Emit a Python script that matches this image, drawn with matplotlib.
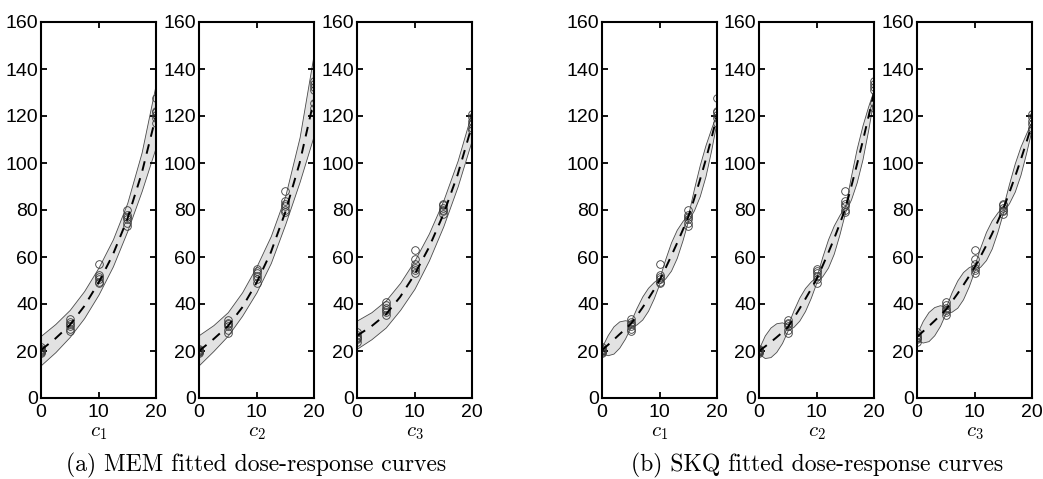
import numpy as np
import matplotlib
matplotlib.use('Agg')
import matplotlib.pyplot as plt

plt.rcParams['font.family'] = ['Liberation Sans', 'DejaVu Sans']
plt.rcParams['mathtext.fontset'] = 'cm'

# doses, 6 replicates each
dose = [0]*6 + [5]*6 + [10]*6 + [15]*6 + [20]*6

resp_c1 = [19, 19.5, 20, 20.5, 21, 21.5,
           28.5, 29.5, 30.5, 31.5, 32.5, 33.5,
           49, 49.5, 50.5, 51.5, 52.5, 57,
           73, 74.5, 76, 77, 78, 80,
           117, 119, 120.5, 121.5, 122, 127.5]
resp_c2 = [19.5, 20, 20, 20.5, 21, 19,
           27.5, 29, 30.5, 31.5, 32, 33,
           49, 50.5, 52, 53, 54, 55,
           79, 80, 81.5, 82.5, 84, 88,
           123.5, 125.5, 131, 132.5, 133.5, 135]
resp_c3 = [24, 25, 26, 27, 28, 25.5,
           35.5, 36.5, 37.5, 38.5, 39.5, 41,
           53, 54.5, 55.5, 57, 59, 63,
           78.5, 79.5, 80, 81, 82, 82.5,
           114, 115, 116.5, 118, 119.5, 121]

# MEM fitted curves and bands (read at x = 0, 2.5, ..., 20)
x_mem = [0, 2.5, 5, 7.5, 10, 12.5, 15, 17.5, 20]
mem_c1_mean = [20.4, 25.3, 31.0, 39.0, 49.0, 61.0, 76.0, 95.5, 120.0]
mem_c1_up = [26.5, 31.5, 37.5, 45.5, 55.5, 67.5, 83, 104.5, 134]
mem_c1_lo = [14, 19.5, 26, 34, 44, 56, 71, 88, 107]
mem_c2_mean = [20, 25, 30.5, 38.5, 49, 62, 79, 100, 127]
mem_c2_up = [26.8, 31, 36.5, 45, 56, 69, 86, 111, 147]
mem_c2_lo = [14, 20, 26.5, 35, 45, 57.5, 74, 92, 112]
mem_c3_mean = [26.5, 30.5, 35.5, 43, 52.5, 64, 78, 95, 116]
mem_c3_up = [33, 36.5, 41.5, 49, 58.5, 70, 84, 101, 122]
mem_c3_lo = [21, 25, 30, 37.5, 46.5, 58.5, 73, 90, 110]

# SKQ fitted curves and band half widths (read at x = 0, 1, ..., 20)
x_skq = list(range(21))
skq_c1_mean = [20.4, 22.5, 24.7, 27.0, 29.2, 31.5, 34.8, 38.3, 42.0, 45.9, 50.0,
               55.0, 60.2, 65.6, 71.2, 77.0, 84.5, 92.5, 101.0, 110.2, 120.0]
skq_c1_half = [1.5, 4.3, 5.8, 5.6, 3.9, 1.2, 3.5, 4.9, 4.9, 3.5, 1.2,
               4.1, 6.0, 6.0, 4.1, 1.2, 4.6, 6.6, 6.6, 4.6, 1.5]
skq_c2_mean = [20.0, 21.8, 23.7, 25.7, 27.8, 30.0, 33.8, 37.8, 41.9, 46.1, 50.5,
               55.9, 61.5, 67.4, 73.8, 80.5, 89.5, 99.0, 108.8, 119.2, 130.0]
skq_c2_half = [1.2, 4.8, 6.3, 6.1, 4.4, 1.2, 3.5, 4.9, 4.9, 3.5, 1.2,
               4.1, 6.0, 6.0, 4.1, 1.2, 5.0, 7.2, 7.2, 5.0, 1.5]
skq_c3_mean = [26.0, 28.2, 30.4, 32.7, 35.1, 37.5, 40.8, 44.2, 47.8, 51.6, 55.5,
               60.0, 64.7, 69.6, 74.9, 80.5, 87.0, 93.8, 101.0, 108.6, 116.5]
skq_c3_half = [1.5, 4.6, 6.2, 6.0, 4.4, 1.2, 4.1, 5.8, 5.8, 4.1, 1.2,
               4.1, 6.0, 6.0, 4.1, 1.2, 4.1, 6.0, 6.0, 4.1, 1.5]

labels = [r'$c_1$', r'$c_2$', r'$c_3$']
resps = [resp_c1, resp_c2, resp_c3]

mem = [(mem_c1_mean, mem_c1_lo, mem_c1_up),
       (mem_c2_mean, mem_c2_lo, mem_c2_up),
       (mem_c3_mean, mem_c3_lo, mem_c3_up)]
skq = []
for m, h in [(skq_c1_mean, skq_c1_half), (skq_c2_mean, skq_c2_half), (skq_c3_mean, skq_c3_half)]:
    m = np.array(m)
    h = np.array(h)
    skq.append((m, m - h, m + h))

W, H = 1043, 479
fig = plt.figure(figsize=(W / 100, H / 100), dpi=100)

lefts = [41, 199, 357, 602, 759, 917]
ax_w = 115
top, bottom = 22, 398


def draw_panel(ax, x, fit, resp, lab):
    mean, lo, up = fit
    ax.fill_between(x, lo, up, facecolor='#e2e2e2', edgecolor='#4a4a4a', linewidth=0.6, zorder=1)
    ax.plot(dose, resp, 'o', mfc='none', mec='#3a3a3a', ms=5.5, mew=0.6, zorder=2)
    ax.plot(x, mean, color='k', lw=1.4, dashes=(5, 4), zorder=3)
    ax.set_xlim(0, 20)
    ax.set_ylim(0, 160)
    ax.set_xticks([0, 10, 20])
    ax.set_yticks(range(0, 161, 20))
    ax.tick_params(direction='in', top=True, right=True, length=4, width=1.3,
                   labelsize=14)
    ax.tick_params(axis='y', pad=2)
    ax.tick_params(axis='x', pad=4)
    for s in ax.spines.values():
        s.set_linewidth(1.5)
    ax.set_xlabel(lab, fontsize=15, labelpad=1.5)


for i in range(6):
    ax = fig.add_axes([lefts[i] / W, (H - bottom) / H, ax_w / W, (bottom - top) / H])
    k = i % 3
    if i < 3:
        draw_panel(ax, x_mem, mem[k], resps[k], labels[k])
    else:
        draw_panel(ax, x_skq, skq[k], resps[k], labels[k])

fig.text((41 + 472) / 2 / W, 1 - 465 / H, '(a) MEM fitted dose-response curves',
         ha='center', va='center', fontfamily='cmr10', fontsize=17)
fig.text((602 + 1032) / 2 / W, 1 - 465 / H, '(b) SKQ fitted dose-response curves',
         ha='center', va='center', fontfamily='cmr10', fontsize=17)

fig.savefig('out.png', dpi=100)
